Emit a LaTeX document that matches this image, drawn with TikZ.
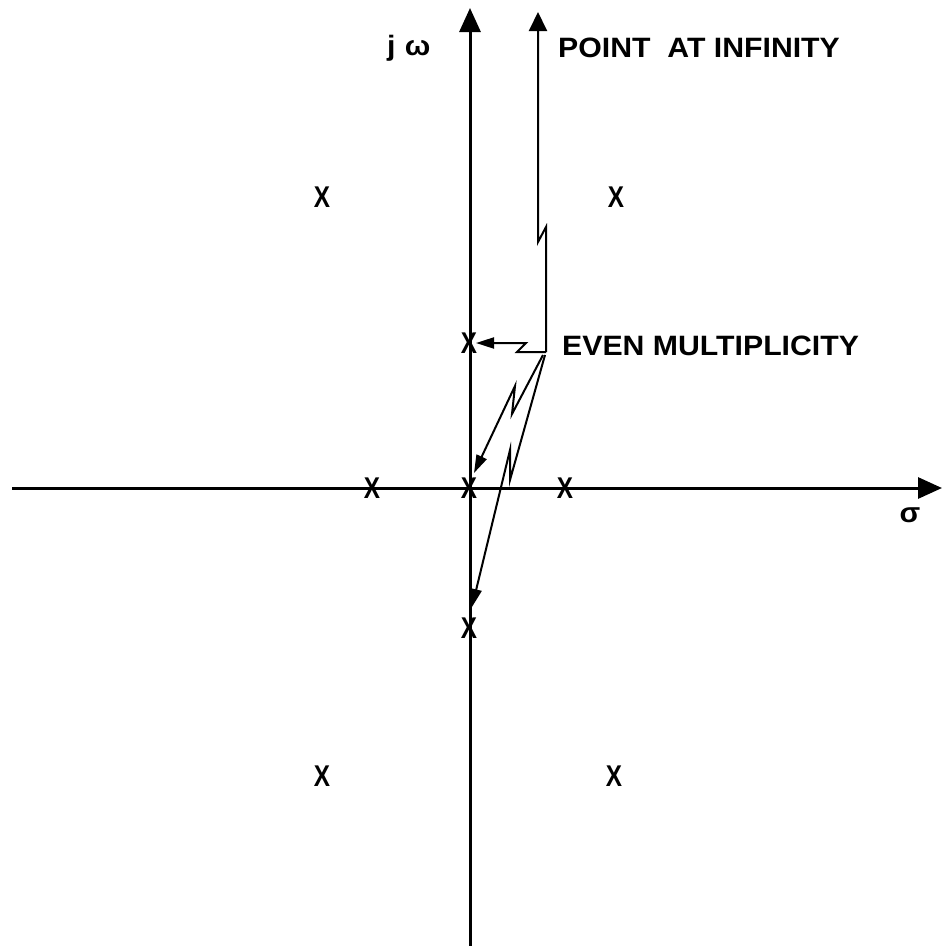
\documentclass[tikz,border=0pt]{standalone}
\usepackage{fontspec}
\setmainfont{Liberation Sans}[FakeStretch=1.08]
\usetikzlibrary{arrows.meta}
\begin{document}
\begin{tikzpicture}[x=1pt,y=-1pt,
  axisline/.style={line width=3pt,-{Triangle[width=21pt,length=24pt]}},
  infline/.style={line width=2pt,-{Triangle[width=18pt,length=19pt]}},
  ptr/.style={line width=2pt,-{Triangle[width=11pt,length=18pt]}},
  lbl/.style={font=\fontsize{28}{30}\selectfont\bfseries,inner sep=0pt,anchor=base west},
  pole/.style={font=\fontsize{30}{30}\selectfont\bfseries,inner sep=0pt,anchor=center}]
\useasboundingbox (0,0) rectangle (942,946);
% axes
\coordinate (xl) at (12,488);
\coordinate (xr) at (942,488);
\coordinate (yb) at (470,946);
\coordinate (yt) at (470,8);
\draw[axisline] (xl) -- (xr);
\draw[axisline] (yb) -- (yt);
% labels
\node[lbl] (jw) at (387,55) {j\,\,ω};
\node[lbl,anchor=base] (sig) at (910,522) {σ};
\node[lbl] (pinf) at (558,57) {POINT\ \ AT INFINITY};
\node[lbl] (evm) at (562,355) {EVEN MULTIPLICITY};
% poles
\node[pole] (p1) at (322,197) {\scalebox{0.75}[1]{X}};
\node[pole] (p2) at (616,197) {\scalebox{0.75}[1]{X}};
\node[pole] (p3) at (322,776) {\scalebox{0.75}[1]{X}};
\node[pole] (p4) at (614,776) {\scalebox{0.75}[1]{X}};
\node[pole] (p5) at (372,488) {\scalebox{0.75}[1]{X}};
\node[pole] (p6) at (469,488) {\scalebox{0.75}[1]{X}};
\node[pole] (p7) at (565,488) {\scalebox{0.75}[1]{X}};
\node[pole] (p8) at (469,343) {\scalebox{0.75}[1]{X}};
\node[pole] (p9) at (469,628) {\scalebox{0.75}[1]{X}};
% junction and zigzag points
\coordinate (j) at (546,352);
\coordinate (za1) at (546,227);
\coordinate (za2) at (538,242);
\coordinate (inf) at (538,12);
\coordinate (zb1) at (517,352);
\coordinate (zb2) at (526,343);
\coordinate (tb) at (476,343);
\coordinate (s1) at (543,355);
\coordinate (zc1) at (512,414);
\coordinate (zc2) at (515,386);
\coordinate (tc) at (474,473);
\coordinate (s2) at (545,355);
\coordinate (zd1) at (510,480);
\coordinate (zd2) at (510,450);
\coordinate (td) at (472,607);
\draw[infline] (j) -- (za1) -- (za2) -- (inf);
\draw[ptr] (j) -- (zb1) -- (zb2) -- (tb);
\draw[ptr] (s1) -- (zc1) -- (zc2) -- (tc);
\draw[ptr] (s2) -- (zd1) -- (zd2) -- (td);
\end{tikzpicture}
\end{document}
